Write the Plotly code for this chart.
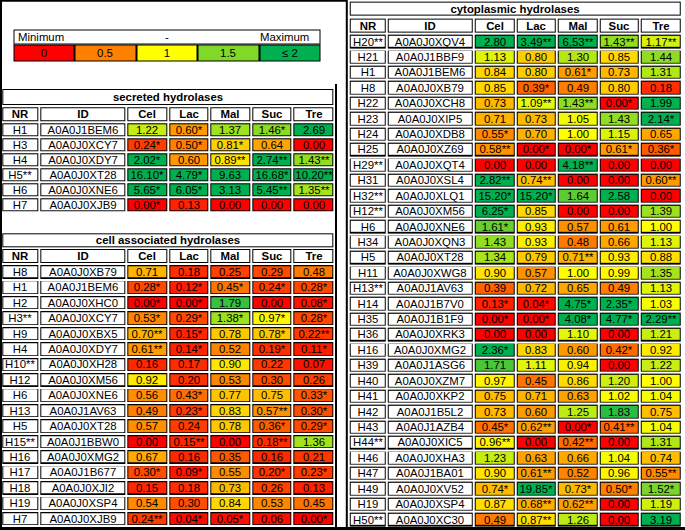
import plotly.graph_objects as go

# ---------------- data ----------------
sugars = ["Cel", "Lac", "Mal", "Suc", "Tre"]
header_labels = ["NR", "ID"] + sugars
legend_vals = [0, 0.5, 1, 1.5, 2]
legend_labels = ["0", "0.5", "1", "1.5", "≤ 2"]

# secreted hydrolases
sec_nr = ["H1", "H3", "H4", "H5**", "H6", "H7"]
sec_id = ["A0A0J1BEM6", "A0A0J0XCY7", "A0A0J0XDY7", "A0A0J0XT28", "A0A0J0XNE6", "A0A0J0XJB9"]
sec_cel = [1.22, 0.24, 2.02, 16.10, 5.65, 0.00]
sec_lac = [0.60, 0.50, 0.60, 4.79, 6.05, 0.13]
sec_mal = [1.37, 0.81, 0.89, 9.63, 3.13, 0.00]
sec_suc = [1.46, 0.64, 2.74, 16.68, 5.45, 0.00]
sec_tre = [2.69, 0.00, 1.43, 10.20, 1.35, 0.00]
# number of asterisks per cell (Cel Lac Mal Suc Tre)
sec_sig = ["01010", "11100", "10222", "11012", "11022", "10000"]

# cell associated hydrolases
ca_nr = ["H8", "H1", "H2", "H3**", "H9", "H4", "H10**", "H12", "H6", "H13", "H5", "H15**",
         "H16", "H17", "H18", "H19", "H7"]
ca_id = ["A0A0J0XB79", "A0A0J1BEM6", "A0A0J0XHC0", "A0A0J0XCY7", "A0A0J0XBX5", "A0A0J0XDY7",
         "A0A0J0XH28", "A0A0J0XM56", "A0A0J0XNE6", "A0A0J1AV63", "A0A0J0XT28", "A0A0J1BBW0",
         "A0A0J0XMG2", "A0A0J1B677", "A0A0J0XJI2", "A0A0J0XSP4", "A0A0J0XJB9"]
ca_cel = [0.71, 0.28, 0.00, 0.53, 0.70, 0.61, 0.16, 0.92, 0.56, 0.49, 0.57, 0.00, 0.67, 0.30, 0.15, 0.54, 0.24]
ca_lac = [0.18, 0.12, 0.00, 0.29, 0.15, 0.14, 0.17, 0.20, 0.43, 0.23, 0.24, 0.15, 0.16, 0.09, 0.18, 0.30, 0.04]
ca_mal = [0.25, 0.45, 1.79, 1.38, 0.78, 0.52, 0.90, 0.53, 0.77, 0.83, 0.78, 0.00, 0.35, 0.55, 0.73, 0.84, 0.05]
ca_suc = [0.29, 0.24, 0.00, 0.97, 0.78, 0.19, 0.22, 0.30, 0.75, 0.57, 0.36, 0.18, 0.16, 0.20, 0.26, 0.53, 0.06]
ca_tre = [0.48, 0.28, 0.08, 0.28, 0.22, 0.11, 0.07, 0.26, 0.33, 0.30, 0.29, 1.36, 0.21, 0.23, 0.13, 0.45, 0.00]
ca_sig = ["00000", "11111", "11001", "11111", "21012", "21011", "00000", "00000", "01001",
          "01021", "00011", "02020", "00000", "11011", "00000", "00000", "21101"]

# cytoplasmic hydrolases
cy_nr = ["H20**", "H21", "H1", "H8", "H22", "H23", "H24", "H25", "H29**", "H31", "H32**", "H12**",
         "H6", "H34", "H5", "H11", "H13**", "H14", "H35", "H36", "H16", "H39", "H40", "H41", "H42",
         "H43", "H44**", "H46", "H47", "H49", "H19", "H50**"]
cy_id = ["A0A0J0XQV4", "A0A0J1BBF9", "A0A0J1BEM6", "A0A0J0XB79", "A0A0J0XCH8", "A0A0J0XIP5",
         "A0A0J0XDB8", "A0A0J0XZ69", "A0A0J0XQT4", "A0A0J0XSL4", "A0A0J0XLQ1", "A0A0J0XM56",
         "A0A0J0XNE6", "A0A0J0XQN3", "A0A0J0XT28", "A0A0J0XWG8", "A0A0J1AV63", "A0A0J1B7V0",
         "A0A0J1B1F9", "A0A0J0XRK3", "A0A0J0XMG2", "A0A0J1ASG6", "A0A0J0XZM7", "A0A0J0XKP2",
         "A0A0J1B5L2", "A0A0J1AZB4", "A0A0J0XIC5", "A0A0J0XHA3", "A0A0J1BA01", "A0A0J0XV52",
         "A0A0J0XSP4", "A0A0J0XC30"]
cy_cel = [2.80, 1.13, 0.84, 0.85, 0.73, 0.71, 0.55, 0.58, 0.00, 2.82, 15.20, 6.25, 1.61, 1.43, 1.34, 0.90,
          0.39, 0.13, 0.00, 0.00, 2.36, 1.71, 0.97, 0.75, 0.73, 0.45, 0.96, 1.23, 0.90, 0.74, 0.87, 0.49]
cy_lac = [3.49, 0.80, 0.80, 0.39, 1.09, 0.73, 0.70, 0.00, 0.00, 0.74, 15.20, 0.85, 0.93, 0.93, 0.79, 0.57,
          0.72, 0.04, 0.00, 0.00, 0.83, 1.11, 0.45, 0.71, 0.60, 0.62, 0.00, 0.63, 0.61, 19.85, 0.68, 0.87]
cy_mal = [6.53, 1.30, 0.61, 0.49, 1.43, 1.05, 1.00, 0.00, 4.18, 0.00, 1.64, 0.00, 0.57, 0.48, 0.71, 1.00,
          0.65, 4.75, 4.08, 1.10, 0.60, 0.94, 0.86, 0.63, 1.25, 0.00, 0.42, 0.66, 0.52, 0.73, 0.62, 1.26]
cy_suc = [1.43, 0.85, 0.73, 0.80, 0.00, 1.43, 1.15, 0.61, 0.00, 0.00, 2.58, 0.00, 0.61, 0.66, 0.93, 0.99,
          0.49, 2.35, 4.77, 0.00, 0.42, 0.00, 1.20, 1.02, 1.83, 0.41, 0.00, 1.04, 0.96, 0.50, 0.00, 0.00]
cy_tre = [1.17, 1.44, 1.31, 0.18, 1.99, 2.14, 0.65, 0.36, 0.00, 0.60, 0.00, 1.39, 1.00, 1.13, 0.88, 1.35,
          1.13, 1.03, 2.29, 1.21, 0.92, 1.22, 1.00, 1.04, 0.75, 1.04, 1.31, 0.74, 0.55, 1.52, 1.19, 3.19]
cy_sig = ["02222", "00000", "00100", "01000", "02210", "00001", "10000", "21111", "00200", "22002",
          "11000", "10000", "10000", "00000", "00200", "00000", "00000", "11110", "11112", "00000",
          "10010", "00000", "00000", "00000", "00000", "12120", "20200", "00000", "02002", "11111",
          "02200", "02000"]

# ---------------- styling / layout constants ----------------
FONT = "Liberation Sans, Arial, Helvetica, sans-serif"
FS = 11.4
SCALE = [[0.0, "#FF0000"], [0.5, "#FFFF00"], [1.0, "#00B050"]]
COL_W = [38.2, 86.8, 41.6, 41.6, 41.6, 41.6, 41.6]
W, H = 685, 530

fig = go.Figure()


def cum_edges(start, widths):
    e = [start]
    for w in widths:
        e.append(e[-1] + w)
    return e


def block(xe, ye, color, gap, text=None):
    nx, ny = len(xe) - 1, len(ye) - 1
    tr = go.Heatmap(x=xe, y=ye, z=[[0] * nx for _ in range(ny)], zmin=0, zmax=1,
                    colorscale=[[0, color], [1, color]], showscale=False,
                    xgap=gap, ygap=gap, hoverinfo="skip")
    if text is not None:
        tr.update(text=text, texttemplate="%{text}",
                  textfont=dict(family=FONT, size=FS, color="black"))
    fig.add_trace(tr)


def add_table(title, x0, title_y, head_y, row0, pitch, nr, ids, cols, sig):
    xe = cum_edges(x0, COL_W)
    n = len(nr)
    rows = [row0 + i * pitch for i in range(n + 1)]
    # title bar
    block([xe[0], xe[-1]], title_y, "black", 2)
    block([xe[0], xe[-1]], title_y, "white", 4, [["<b>" + title + "</b>"]])
    # black underlay for header + body
    block(xe, [head_y[0], head_y[1]] + rows[1:], "black", 2)
    # header
    block(xe, head_y, "white", 4, [["<b>" + h + "</b>" for h in header_labels]])
    # NR / ID
    block(xe[:3], rows, "white", 4, [[nr[i], ids[i]] for i in range(n)])
    # values
    z = [[c[i] for c in cols] for i in range(n)]
    txt = [[f"{cols[j][i]:.2f}" + "*" * int(sig[i][j]) for j in range(5)] for i in range(n)]
    fig.add_trace(go.Heatmap(x=xe[2:], y=rows, z=z, zmin=0, zmax=2, colorscale=SCALE,
                             showscale=False, xgap=4, ygap=4, text=txt, texttemplate="%{text}",
                             textfont=dict(family=FONT, size=FS, color="black"),
                             hoverinfo="skip"))


# legend
leg_x = [13.5, 74.5, 136.0, 197.5, 259.0, 320.5]
block([leg_x[0], leg_x[-1]], [29.5, 44.5], "black", 0)
block(leg_x, [44.5, 61.5], "black", 0)
block([leg_x[0], leg_x[-1]], [29.5, 44.5], "white", 2)
fig.add_trace(go.Heatmap(x=leg_x, y=[44.5, 61.5], z=[legend_vals], zmin=0, zmax=2,
                         colorscale=SCALE, showscale=False, xgap=2, ygap=2,
                         text=[legend_labels], texttemplate="%{text}",
                         textfont=dict(family=FONT, size=FS, color="black"), hoverinfo="skip"))
for txt, xx, anc in [("Minimum", 15.5, "left"), ("-", 167, "center"), ("Maximum", 311, "right")]:
    fig.add_annotation(x=xx, y=37.2, text=txt, xanchor=anc, yanchor="middle", showarrow=False,
                       font=dict(family=FONT, size=FS, color="black"))

add_table("secreted hydrolases", 1.3, [88.0, 106.2], [106.2, 122.3], 122.3, 15.0,
          sec_nr, sec_id, [sec_cel, sec_lac, sec_mal, sec_suc, sec_tre], sec_sig)
add_table("cell associated hydrolases", 1.3, [232.3, 248.0], [248.0, 264.2], 264.2, 15.42,
          ca_nr, ca_id, [ca_cel, ca_lac, ca_mal, ca_suc, ca_tre], ca_sig)
add_table("cytoplasmic hydrolases", 348.7, [0.6, 16.8], [17.6, 33.6], 33.8, 15.42,
          cy_nr, cy_id, [cy_cel, cy_lac, cy_mal, cy_suc, cy_tre], cy_sig)

# frame lines
frame = [(1, 0, 1, H, 2), (0, 0.8, 347, 0.8, 2), (336, 84, 336, H, 2),
         (346.8, 0, 346.8, H, 2), (0, 528.5, W, 528.5, 3)]
for xa, ya, xb, yb, lw in frame:
    fig.add_shape(type="line", x0=xa, y0=ya, x1=xb, y1=yb, xref="x", yref="y",
                  line=dict(color="black", width=lw))

fig.update_xaxes(range=[0, W], visible=False, fixedrange=True)
fig.update_yaxes(range=[H, 0], visible=False, fixedrange=True)
fig.update_layout(width=W, height=H, margin=dict(l=0, r=0, t=0, b=0),
                  plot_bgcolor="white", paper_bgcolor="white", showlegend=False)

fig.write_html("out.html", config={"displayModeBar": False, "staticPlot": True},
               post_script="document.body.style.margin='0';")
